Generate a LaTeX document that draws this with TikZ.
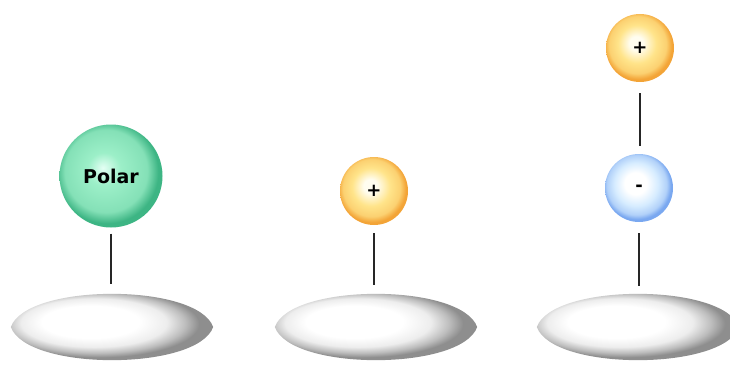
\documentclass[tikz,border=0pt]{standalone}
\usepackage{fontspec}
\setmainfont{DejaVu Sans}

% colours of the shaded spheres and discs
\definecolor{gIn}{HTML}{E4FFF4}
\definecolor{gMid}{HTML}{9CEFC8}
\definecolor{gOut}{HTML}{3DB584}
\definecolor{oIn}{HTML}{FFFDF0}
\definecolor{oMid}{HTML}{FFE48A}
\definecolor{oOut}{HTML}{F3A437}
\definecolor{bIn}{HTML}{FFFFFF}
\definecolor{bMid}{HTML}{D6ECFF}
\definecolor{bOut}{HTML}{7AA8F0}
\definecolor{dIn}{HTML}{FFFFFF}
\definecolor{dMid}{HTML}{EDEDED}
\definecolor{dRim}{HTML}{BDBDBD}
\definecolor{dOut}{HTML}{8E8E8E}

% radial shadings: a path's inscribed ellipse lies at 25bp; highlight up and to the left
\pgfdeclareradialshading{greenball}{\pgfpoint{-4bp}{4bp}}{%
  color(0bp)=(gIn); color(8bp)=(gMid); color(20bp)=(gMid!75!gOut);
  color(25bp)=(gOut); color(50bp)=(gOut)}
\pgfdeclareradialshading{orangeball}{\pgfpoint{-3bp}{4bp}}{%
  color(0bp)=(oIn); color(5bp)=(oIn); color(14bp)=(oMid);
  color(21bp)=(oMid!70!oOut); color(25bp)=(oOut); color(50bp)=(oOut)}
\pgfdeclareradialshading{blueball}{\pgfpoint{-3bp}{4bp}}{%
  color(0bp)=(bIn); color(8bp)=(bIn); color(16bp)=(bMid);
  color(22bp)=(bMid!60!bOut); color(25bp)=(bOut); color(50bp)=(bOut)}
\pgfdeclareradialshading{disc}{\pgfpoint{-7bp}{5bp}}{%
  color(0bp)=(dIn); color(12bp)=(dIn); color(18bp)=(dMid);
  color(22bp)=(dRim); color(25bp)=(dOut); color(50bp)=(dOut)}

\tikzset{
  sphere/.style={circle, inner sep=0pt},
  polar/.style={sphere, minimum size=103pt, shading=greenball, font=\bfseries\fontsize{19}{19}\selectfont},
  cation/.style={sphere, minimum size=68pt, shading=orangeball, font=\bfseries\fontsize{18}{18}\selectfont},
  anion/.style={sphere, minimum size=68pt, shading=blueball, font=\bfseries\fontsize{18}{18}\selectfont},
  % the disc is a named placeholder of the disc's size; its lens is drawn below
  head/.style={rectangle, inner sep=0pt, minimum width=202pt, minimum height=67pt},
  lens/.style={shading=disc},
  bond/.style={line width=1.6pt, draw=black!85},
}

% shaded lens filling the placeholder node #1
\newcommand\lensdisc[1]{%
  \begin{scope}
    \clip (#1.west)
      .. controls ([xshift=16pt,yshift=10.5pt]#1.north west) and ([xshift=-16pt,yshift=10.5pt]#1.north east) .. (#1.east)
      .. controls ([xshift=-16pt,yshift=-10.5pt]#1.south east) and ([xshift=16pt,yshift=-10.5pt]#1.south west) .. (#1.west) -- cycle;
    \path[lens] (#1.south west) rectangle (#1.north east);
  \end{scope}}

\begin{document}
\begin{tikzpicture}[x=1pt, y=-1pt]
  \useasboundingbox (0,0) rectangle (730,369);
  \clip (0,0) rectangle (730,369);

  % left: polar group on its disc
  \node[head]  (d1) at (112,327) {};
  \lensdisc{d1}
  \node[polar] (p1) at (111,176) {Polar};
  \draw[bond, shorten <=6pt, shorten >=9pt] (p1.south) -- (p1.south |- d1.north);

  % middle: positive charge on its disc
  \node[head]   (d2) at (376,327) {};
  \lensdisc{d2}
  \node[cation] (c2) at (374,191) {+};
  \draw[bond, shorten <=8pt, shorten >=8pt] (c2.south) -- (c2.south |- d2.north);

  % right: positive and negative charges stacked on a disc
  \node[head]   (d3) at (638,327) {};
  \lensdisc{d3}
  \node[anion]  (a3) at (639,188) {-};
  \node[cation] (c3) at (640,48) {+};
  \draw[bond, shorten <=11pt, shorten >=8pt] (c3.south) -- (c3.south |- a3.north);
  \draw[bond, shorten <=11pt, shorten >=7pt] (a3.south) -- (a3.south |- d3.north);
\end{tikzpicture}
\end{document}
